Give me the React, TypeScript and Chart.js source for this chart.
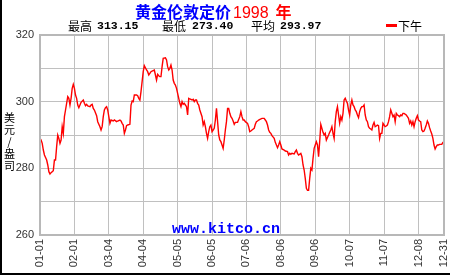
import React, { useEffect, useRef } from "react";
import Chart from "chart.js/auto";

// Day of year (0 = 01-01) and London PM fix (USD/oz), 1998
const DAYS = [
  0, 1, 2, 3, 4, 6, 7, 8, 9, 10, 12, 13, 14, 15, 16, 17, 18, 19, 20, 21, 22, 23, 25, 26, 27, 28, 29, 30,
  31, 32, 33, 34, 35, 36, 37, 39, 40, 41, 42, 43, 45, 46, 47, 48, 49, 51, 52, 54, 55, 56, 57, 58, 59, 60,
  61, 62, 63, 64, 66, 67, 69, 70, 72, 73, 74, 75, 76, 77, 78, 79, 81, 82, 83, 84, 85, 87, 88, 89, 90,
  91, 92, 93, 94, 96, 97, 98, 99, 100, 101, 103, 104, 105, 106, 107, 108, 109, 110, 111, 113, 114, 115,
  116, 117, 118, 119, 120, 121, 122, 123, 124, 125, 126, 127, 128, 129, 130, 131, 132, 133, 134, 135,
  137, 138, 139, 140, 141, 142, 143, 144, 146, 147, 148, 149, 150, 151, 152, 153, 154, 155, 156, 157,
  158, 159, 160, 161, 162, 163, 164, 165, 166, 167, 168, 169, 170, 171, 172, 173, 174, 175, 176, 178,
  180, 181, 182, 183, 184, 185, 187, 188, 189, 190, 191, 193, 194, 195, 196, 197, 199, 200, 202, 203,
  204, 205, 206, 207, 208, 209, 211, 212, 213, 214, 215, 216, 217, 218, 220, 221, 223, 224, 225, 226,
  227, 229, 230, 231, 232, 233, 235, 236, 237, 238, 239, 240, 241, 242, 243, 244, 245, 246, 247, 248,
  249, 250, 251, 252, 253, 254, 255, 256, 257, 258, 260, 261, 262, 263, 264, 265, 266, 267, 268, 269,
  270, 271, 272, 273, 274, 275, 276, 277, 278, 279, 280, 281, 282, 283, 284, 285, 286, 287, 288, 289,
  290, 291, 292, 293, 294, 295, 296, 297, 298, 299, 300, 301, 302, 303, 304, 305, 306, 307, 308, 309,
  310, 311, 312, 313, 314, 315, 316, 317, 318, 319, 320, 321, 322, 323, 324, 325, 326, 327, 328, 330,
  331, 332, 333, 334, 335, 336, 337, 338, 339, 340, 341, 342, 343, 344, 345, 346, 347, 348, 349, 350,
  351, 352, 353, 354, 355, 356, 357, 358, 359, 360, 361, 362, 363, 364,
];

const PRICES = [
  289, 288.5, 287.5, 285.5, 284, 282.5, 281, 279, 278.3, 278.7, 279.3, 282.5, 282.5, 286.5, 290, 289,
  287.5, 288.5, 292.5, 290.5, 295.5, 297.5, 301.5, 301, 299, 301, 304, 305.2,
  304, 302, 301, 299, 298.2, 299, 299.8, 300.5, 299.5, 298.8, 299.2, 298.7, 298.5, 299, 299.2, 298,
  297.5, 295.8, 294, 292.5, 291.5, 292.5, 295.5, 297.5, 298.2, 298.5,
  297.5, 295.5, 293.5, 294.5, 294.2, 294.5, 294, 294.2, 294.5, 294.2, 293.5, 293, 290.5, 291.5, 292.8,
  293, 293.2, 299, 300.2, 300, 302, 302, 301.8, 301, 300.5,
  303, 306, 309, 310.8, 309.5, 309, 308, 308.5, 309, 309.2, 309.5, 308, 306.5, 308.2, 307.8, 307.5,
  307.5, 310.5, 313, 313.15, 312.5, 310.5,
  309.5, 310, 311, 309.5, 306.5, 305.5, 305, 304, 302.5, 301, 299.5, 298.5, 300, 299.2, 299.5, 299,
  298.5, 296, 301, 300.8,
  300.5, 300.7, 300, 300.5, 300.5, 299.5, 299, 297.5, 295.5, 293, 294, 292.5, 290.5, 289, 291, 292.5,
  293, 291, 291.5, 292,
  294.5, 298, 294, 290, 288.5, 288, 287, 286, 288.5, 291.5, 294, 298, 298, 296.5, 295.5, 295, 294.2,
  293.2, 293.8, 293.8,
  295.5, 297, 295.5, 294.5, 294.5, 294, 293.5, 292.5, 291, 291.2, 291.5, 292, 293.2, 294, 294.2, 294.5,
  294.8, 295, 295, 294.5,
  294, 293, 291.5, 290.8, 290.5, 289.8, 289, 287.8, 287, 286.2, 287, 288, 287, 285.8, 285.5, 285.2, 285,
  284, 284.5, 284.2,
  284.5, 284.3, 285, 285.5, 284.5, 284, 284.5, 283.5, 281, 279.5, 277, 274, 273.4, 273.4, 277, 280,
  279.5, 283, 286, 287,
  288, 287, 283.5, 288, 293.2, 292, 290.8, 290, 290.5, 288.5, 290, 290.8, 291.5, 292.5, 290.5, 289, 294,
  297, 298.5, 296,
  293.5, 295.5, 294.5, 296.5, 300.5, 301, 300.2, 299.5, 297.5, 296, 299, 300.5, 299, 298.5, 297.5, 297,
  296, 295.2, 297, 298,
  298.5, 298.5, 299, 296, 294.5, 294, 292.5, 292, 291.8, 291.5, 293, 293.8, 292.5, 292.7, 293, 292.8,
  289, 290.5, 290.5, 293.5,
  293, 292.5, 292.7, 293, 294, 295.5, 297.5, 296.5, 295.5, 296, 294, 296.5, 296, 295.8, 295.5, 296,
  295.8, 296.5, 296.5, 296,
  295.5, 295, 293.5, 294.2, 293, 294, 292.5, 294, 295, 295.8, 294.5, 294.2, 294, 291.5, 291, 291.2, 292,
  293, 294.2, 293.5,
  292.2, 291.2, 290.3, 289, 287, 285.8, 286.5, 287, 287, 287.2, 287.2, 287.2, 287.8, 287.8,
];

const TICK_DAYS = [0, 31, 62, 93, 124, 155, 186, 217, 248, 279, 310, 341, 364];
const TICK_LABELS = [
  "01-01", "02-01", "03-04", "04-04", "05-05", "06-05", "07-06",
  "08-06", "09-06", "10-07", "11-07", "12-08", "12-31",
];

const TITLE_MAIN = "黄金伦敦定价";
const TITLE_YEAR = "1998";
const TITLE_SUFFIX = "年";
const STAT_NAMES = ["最高", "最低", "平均"];
const STAT_VALUES = ["313.15", "273.40", "293.97"];
const SERIES_NAME = "下午";
const Y_TITLE = ["美", "元", "/", "盎", "司"];
const WATERMARK = "www.kitco.cn";

const frameBorder = {
  id: "frameBorder",
  afterDraw(chart: any) {
    const { ctx, chartArea } = chart;
    ctx.save();
    ctx.strokeStyle = "#b8b8b8";
    ctx.lineWidth = 2;
    ctx.strokeRect(chartArea.left, chartArea.top, chartArea.right - chartArea.left, chartArea.bottom - chartArea.top);
    ctx.restore();
  },
};

export default function App() {
  const ref = useRef<HTMLCanvasElement | null>(null);

  useEffect(() => {
    document.body.style.margin = "0";
    const canvas = ref.current;
    if (!canvas) return;
    const chart = new Chart(canvas, {
      type: "line",
      data: {
        datasets: [
          {
            label: SERIES_NAME,
            data: DAYS.map((d, i) => ({ x: d, y: PRICES[i] })),
            borderColor: "#ff0000",
            borderWidth: 1.4,
            pointRadius: 0,
            tension: 0,
            fill: false,
          },
        ],
      },
      options: {
        animation: false,
        responsive: false,
        devicePixelRatio: 1,
        layout: { padding: { left: 0, top: 35, right: 6, bottom: 0 } },
        plugins: { legend: { display: false }, tooltip: { enabled: false } },
        scales: {
          x: {
            type: "linear",
            min: 0,
            max: 364,
            afterBuildTicks: (scale: any) => {
              scale.ticks = TICK_DAYS.map((v) => ({ value: v }));
            },
            afterFit: (scale: any) => {
              scale.height = 40;
              scale.paddingLeft = 0;
              scale.paddingRight = 0;
            },
            ticks: {
              autoSkip: false,
              maxRotation: 90,
              minRotation: 90,
              padding: 4,
              color: "#333",
              font: { family: "Liberation Sans", size: 11 },
              callback: (v: any) => {
                const i = TICK_DAYS.indexOf(Number(v));
                return i >= 0 ? TICK_LABELS[i] : "";
              },
            },
            grid: { color: "#c0c0c0", lineWidth: 1, drawTicks: false },
            border: { display: true, color: "#b8b8b8", width: 2 },
          },
          y: {
            min: 260,
            max: 320,
            afterFit: (scale: any) => {
              scale.width = 40;
            },
            ticks: {
              stepSize: 10,
              padding: 6,
              color: "#333",
              font: { family: "Liberation Sans", size: 11 },
              callback: (v: any) => (Number(v) % 20 === 0 ? String(v) : ""),
            },
            grid: { color: "#c0c0c0", lineWidth: 1, drawTicks: false },
            border: { display: true, color: "#b8b8b8", width: 2 },
          },
        },
      },
      plugins: [frameBorder],
    } as any);
    return () => chart.destroy();
  }, []);

  const cjk = '"Noto Sans CJK SC", sans-serif';
  const mono = '"Liberation Mono", "DejaVu Sans Mono", monospace';
  const abs = (left: number, top: number, extra: any = {}) => ({
    position: "absolute" as const,
    left,
    top,
    whiteSpace: "nowrap" as const,
    ...extra,
  });

  const statLeft = [68, 162, 251];
  const valLeft = [97, 192, 280];

  return (
    <div style={{ position: "relative", width: 450, height: 275, background: "#fff", overflow: "hidden" }}>
      <canvas ref={ref} width={450} height={275} style={{ position: "absolute", left: 0, top: 0 }} />
      <div style={abs(135, 2, { fontFamily: cjk, fontSize: 16, lineHeight: "18px" })}>
        <span style={{ color: "#0000ff", fontWeight: 700 }}>{TITLE_MAIN}</span>
        <span style={{ color: "#ff0000", fontFamily: '"Liberation Sans", sans-serif', fontSize: 16, marginLeft: 2 }}>{TITLE_YEAR}</span>
        <span style={{ color: "#ff0000", fontWeight: 700, marginLeft: 7 }}>{TITLE_SUFFIX}</span>
      </div>
      {STAT_NAMES.map((n, i) => (
        <React.Fragment key={n}>
          <div style={abs(statLeft[i], 19, { fontFamily: cjk, fontSize: 12, lineHeight: "14px", color: "#000" })}>{n}</div>
          <div style={abs(valLeft[i], 19, { fontFamily: mono, fontWeight: 700, fontSize: 11.5, lineHeight: "14px", color: "#000" })}>
            {STAT_VALUES[i]}
          </div>
        </React.Fragment>
      ))}
      <div style={abs(386, 24, { width: 11, height: 3, background: "#ff0000" })} />
      <div style={abs(398, 19, { fontFamily: cjk, fontSize: 12, lineHeight: "14px", color: "#000" })}>{SERIES_NAME}</div>
      <div style={abs(3, 111, { fontFamily: cjk, fontSize: 11, color: "#000", width: 13, textAlign: "center" })}>
        {Y_TITLE.map((c, i) => (
          <div key={i} style={{ height: 12, lineHeight: "12px" }}>{c}</div>
        ))}
      </div>
      <div style={abs(172, 221, { fontFamily: mono, fontWeight: 700, fontSize: 15, lineHeight: "18px", color: "#0000ff" })}>
        {WATERMARK}
      </div>
      <div style={{ position: "absolute", left: 0, top: 0, width: 2, height: 275, background: "#000" }} />
      <div style={{ position: "absolute", left: 0, top: 273, width: 450, height: 2, background: "#000" }} />
    </div>
  );
}
